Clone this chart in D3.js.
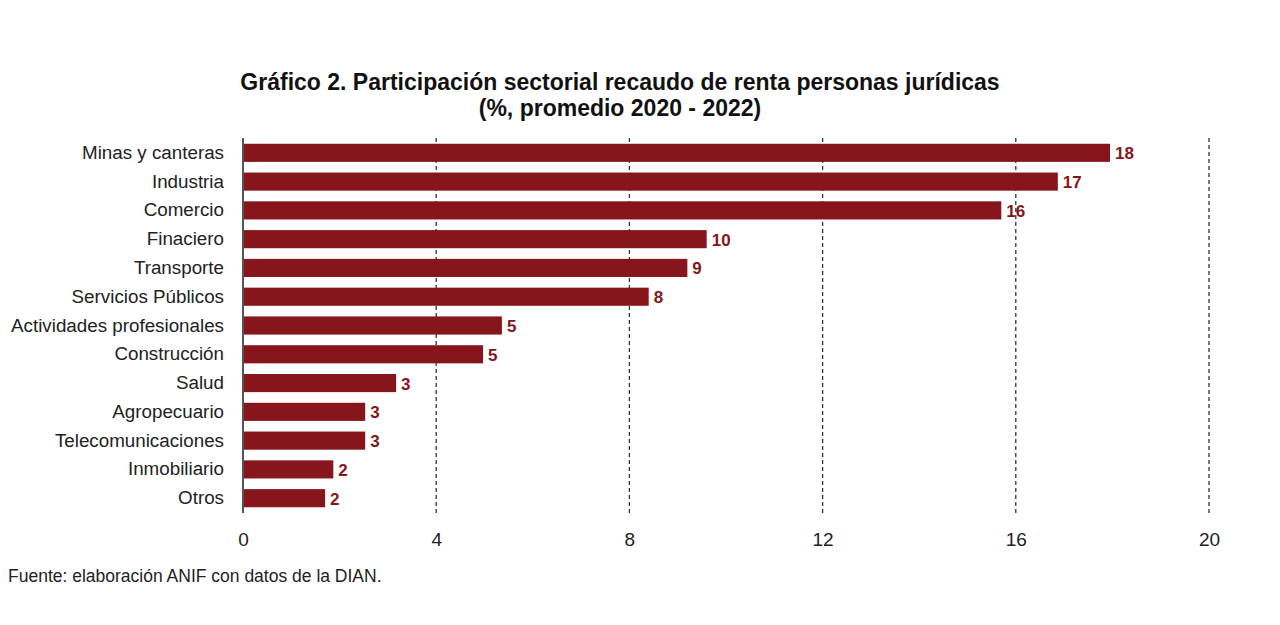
<!DOCTYPE html>
<html>
<head>
<meta charset="utf-8">
<script src="https://cdn.jsdelivr.net/npm/d3@7"></script>
<style>
  body { margin: 0; background: #fff; }
  text { font-family: "Liberation Sans", Arial, sans-serif; }
</style>
</head>
<body>
<script>
// sectores y participacion (%)
var sectors = ["Minas y canteras", "Industria", "Comercio", "Finaciero", "Transporte",
  "Servicios Públicos", "Actividades profesionales", "Construcción", "Salud",
  "Agropecuario", "Telecomunicaciones", "Inmobiliario", "Otros"];
var shares = [17.95, 16.87, 15.7, 9.6, 9.2, 8.4, 5.36, 4.97, 3.17, 2.53, 2.53, 1.87, 1.7];
var xTicks = [0, 4, 8, 12, 16, 20];

var width = 1280, height = 625;
var margin = {top: 138, left: 243, right: 71, bottom: 112};

var svg = d3.select("body").append("svg")
  .attr("width", width)
  .attr("height", height);

var x = d3.scaleLinear().domain([0, 20]).range([margin.left, width - margin.right]);
var y = d3.scaleBand().domain(sectors)
  .range([margin.top, height - margin.bottom])
  .paddingInner(0.37).paddingOuter(0.2);

// title
svg.append("text")
  .attr("x", 620).attr("y", 90)
  .attr("text-anchor", "middle")
  .attr("font-size", 23).attr("font-weight", "bold").attr("fill", "#111")
  .text("Gráfico 2. Participación sectorial recaudo de renta personas jurídicas");
svg.append("text")
  .attr("x", 620).attr("y", 116)
  .attr("text-anchor", "middle")
  .attr("font-size", 23).attr("font-weight", "bold").attr("fill", "#111")
  .text("(%, promedio 2020 - 2022)");

// dashed grid
svg.append("g").selectAll("line")
  .data(xTicks.filter(function(d) { return d > 0; }))
  .enter().append("line")
  .attr("x1", function(d) { return x(d); })
  .attr("x2", function(d) { return x(d); })
  .attr("y1", margin.top).attr("y2", height - margin.bottom)
  .attr("stroke", "#333").attr("stroke-width", 1.3)
  .attr("stroke-dasharray", "4,3");

// bars
svg.selectAll(".bar")
  .data(sectors).enter()
  .append("rect")
  .attr("class", "bar")
  .attr("x", x(0))
  .attr("y", function(d) { return y(d); })
  .attr("width", function(d, i) { return x(shares[i]) - x(0); })
  .attr("height", y.bandwidth())
  .attr("fill", "#86161c");

// value labels
svg.selectAll(".val")
  .data(sectors).enter()
  .append("text")
  .attr("class", "val")
  .attr("x", function(d, i) { return x(shares[i]) + 5; })
  .attr("y", function(d) { return y(d) + y.bandwidth() / 2; })
  .attr("dy", "0.38em")
  .attr("font-size", 17).attr("font-weight", "bold").attr("fill", "#86161c")
  .text(function(d, i) { return Math.round(shares[i]); });

// y axis
var yAxis = svg.append("g")
  .attr("transform", "translate(" + margin.left + ",0)")
  .call(d3.axisLeft(y).tickSize(0).tickPadding(19));
yAxis.select(".domain").attr("stroke", "#555").attr("stroke-width", 2)
  .attr("d", "M0," + margin.top + "V" + (height - margin.bottom));
yAxis.selectAll("text")
  .attr("font-size", 18.8).attr("fill", "#222")
  .attr("font-family", "'Liberation Sans', Arial, sans-serif");

// x axis
var xAxis = svg.append("g")
  .attr("transform", "translate(0," + (height - margin.bottom) + ")")
  .call(d3.axisBottom(x).tickValues(xTicks).tickSize(0).tickPadding(20));
xAxis.select(".domain").remove();
xAxis.selectAll("text")
  .attr("font-size", 19).attr("fill", "#222")
  .attr("font-family", "'Liberation Sans', Arial, sans-serif");

// fuente
svg.append("text")
  .attr("x", 8).attr("y", 582)
  .attr("font-size", 17.5).attr("fill", "#222")
  .text("Fuente: elaboración ANIF con datos de la DIAN.");
</script>
</body>
</html>
